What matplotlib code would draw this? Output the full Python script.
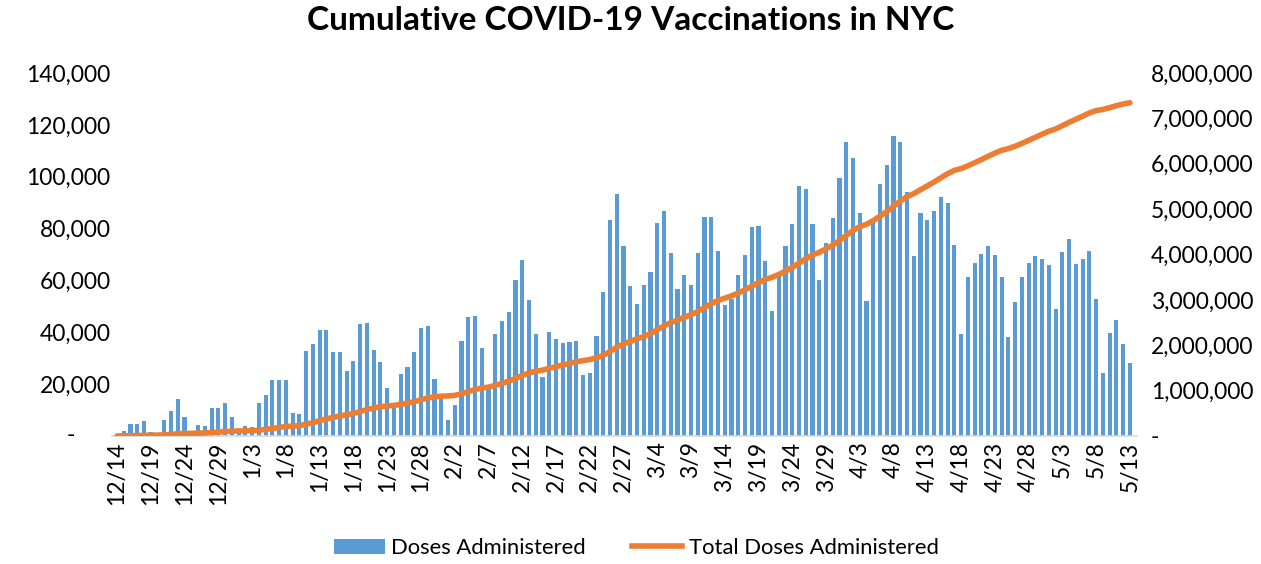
import numpy as np
import matplotlib
matplotlib.use("Agg")
import matplotlib.pyplot as plt
from matplotlib.ticker import FuncFormatter, FixedLocator
from matplotlib.patches import Patch
from matplotlib.lines import Line2D
import datetime as dt

plt.rcParams['font.family'] = ['Lato', 'DejaVu Sans']

# Daily doses administered (thousands), 12/14/2020 .. 5/13/2021
doses_k = [
    0.5, 1.9, 4.5, 4.5, 5.8, 1.7, 1.0, 6.2, 9.6, 14.3,
    7.2, 1.5, 4.2, 3.7, 10.8, 10.7, 12.7, 7.2, 1.5, 3.7,
    3.5, 12.9, 15.8, 21.5, 21.5, 21.7, 9.0, 8.6, 32.8, 35.5,
    40.8, 40.8, 32.3, 32.3, 25.2, 28.9, 43.1, 43.7, 33.0, 28.4,
    18.4, 11.0, 23.9, 26.7, 32.3, 41.6, 42.4, 21.9, 14.1, 6.2,
    12.0, 36.5, 45.8, 46.4, 33.8, 19.0, 39.5, 44.5, 47.8, 60.2,
    67.8, 52.4, 39.5, 22.6, 40.0, 37.4, 36.0, 36.3, 36.8, 23.5,
    24.2, 38.6, 55.4, 83.3, 93.2, 73.2, 57.8, 50.8, 58.2, 63.4,
    82.1, 86.7, 70.5, 56.6, 62.0, 58.2, 70.5, 84.5, 84.5, 71.3,
    50.5, 53.0, 62.1, 69.8, 80.6, 81.0, 67.4, 48.2, 62.0, 73.4,
    81.8, 96.4, 95.3, 81.8, 60.2, 74.4, 84.1, 99.4, 113.5, 107.1,
    86.0, 52.1, 82.5, 97.1, 104.5, 115.7, 113.4, 94.0, 69.5, 85.9,
    83.2, 86.8, 92.1, 89.7, 73.7, 39.3, 61.3, 66.6, 70.2, 73.4,
    69.9, 61.4, 38.2, 51.7, 61.2, 66.8, 69.4, 68.3, 65.8, 49.0,
    71.1, 76.1, 66.3, 68.4, 71.2, 52.8, 24.2, 39.6, 44.7, 35.5,
    28.2,
]
doses = np.array(doses_k) * 1000
total_doses = np.cumsum(doses)

start = dt.date(2020, 12, 14)
dates = [start + dt.timedelta(days=i) for i in range(len(doses))]
date_labels = [f"{d.month}/{d.day}" for d in dates]

left_ticks = [0, 20000, 40000, 60000, 80000, 100000, 120000, 140000]
right_ticks = [0, 1e6, 2e6, 3e6, 4e6, 5e6, 6e6, 7e6, 8e6]

BLUE = '#5B9BD5'
ORANGE = '#ED7D31'
TXT = '#000000'
FS = 16.5
LFS = 15.8

fig = plt.figure(figsize=(12.61, 5.64), dpi=100)
ax = fig.add_axes([112/1261, (564-436)/564, 1025/1261, (436-73)/564])
x = np.arange(len(doses))
ax.bar(x, doses, width=0.62, color=BLUE, zorder=2)
ax.set_xlim(-0.75, len(doses) - 1 + 1.05)
ax.set_ylim(0, 140000)
ax.yaxis.set_major_locator(FixedLocator(left_ticks))

def fmt_left(v, pos):
    return '' if v == 0 else f"{int(round(v)):,}"

def fmt_right(v, pos):
    return '-' if v == 0 else f"{int(round(v)):,}"

ax.yaxis.set_major_formatter(FuncFormatter(fmt_left))
# Excel accounting-style dash for zero on the left axis
ax.text(-37/1025, 0, '-', transform=ax.get_yaxis_transform(), ha='right',
        va='center', fontsize=FS, color=TXT)
tick_idx = list(range(0, len(doses), 5))
ax.set_xticks(tick_idx)
ax.set_xticklabels([date_labels[i] for i in tick_idx], rotation=90, fontsize=FS)
for s in ['top', 'right', 'left']:
    ax.spines[s].set_visible(False)
ax.spines['bottom'].set_color('#d9d9d9')
ax.spines['bottom'].set_linewidth(1.2)
ax.tick_params(axis='both', length=0, labelsize=FS, colors=TXT)
ax.tick_params(axis='y', pad=1)
ax.tick_params(axis='x', pad=4)

ax2 = ax.twinx()
ax2.plot(x, total_doses, color=ORANGE, linewidth=4.0, solid_capstyle='round', zorder=3)
ax2.set_ylim(0, 8e6)
ax2.yaxis.set_major_locator(FixedLocator(right_ticks))
ax2.yaxis.set_major_formatter(FuncFormatter(fmt_right))
for s in ['top', 'right', 'left', 'bottom']:
    ax2.spines[s].set_visible(False)
ax2.tick_params(axis='y', length=0, labelsize=FS, colors=TXT, pad=10)

fig.text(0.5, 1 - 21/564, 'Cumulative COVID-19 Vaccinations in NYC',
         ha='center', va='center', fontsize=24, fontweight='bold')

handles = [Patch(facecolor=BLUE, edgecolor='none'),
           Line2D([0], [0], color=ORANGE, linewidth=4.0)]
fig.legend(handles, ['Doses Administered', 'Total Doses Administered'],
           loc='center', bbox_to_anchor=(0.5 + 6/1261, (564-548)/564),
           ncol=2, frameon=False, fontsize=LFS, handlelength=2.3,
           handleheight=0.65, columnspacing=2.1, handletextpad=0.3)

fig.savefig('out.png', dpi=100)
